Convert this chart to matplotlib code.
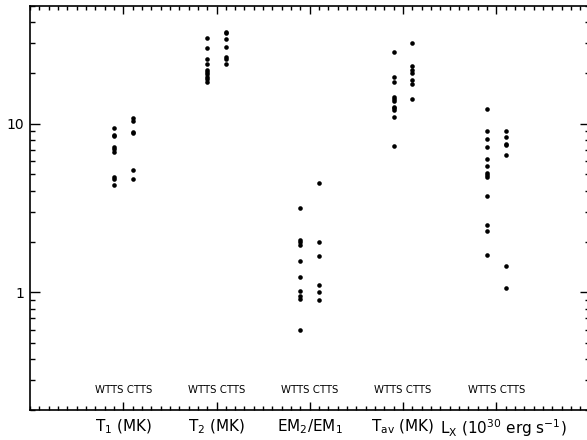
import matplotlib
matplotlib.use("Agg")
import matplotlib.pyplot as plt
import matplotlib.transforms as mtransforms
from matplotlib.ticker import FixedLocator, MultipleLocator, LogLocator, NullFormatter

# values (WTTS / CTTS per quantity)
labels = [r"T$_1$ (MK)", r"T$_2$ (MK)", r"EM$_2$/EM$_1$", r"T$_{\rm av}$ (MK)",
          r"L$_{\rm X}$ (10$^{30}$ erg s$^{-1}$)"]

t1_wtts = [9.5, 8.6, 8.5, 7.3, 7.1, 6.8, 4.8, 4.7, 4.35]
t1_ctts = [10.75, 10.4, 8.97, 8.77, 5.32, 4.71]
t2_wtts = [32.4, 28.3, 24.2, 22.5, 20.8, 20.3, 19.7, 19.0, 18.4, 17.8]
t2_ctts = [35.2, 34.4, 31.7, 28.7, 24.9, 24.3, 22.6]
em_wtts = [3.17, 2.05, 1.98, 1.92, 1.53, 1.23, 1.02, 0.947, 0.91, 0.596]
em_ctts = [4.43, 1.98, 1.63, 1.10, 1.0, 0.905]
tav_wtts = [26.8, 19.0, 17.8, 14.5, 14.0, 13.6, 12.6, 12.4, 12.1, 10.9, 7.4]
tav_ctts = [30.3, 22.0, 20.9, 19.9, 18.2, 17.2, 14.0]
lx_wtts = [12.3, 9.0, 8.1, 7.3, 6.2, 5.6, 5.1, 4.97, 4.86, 3.75, 2.49, 2.30, 1.67]
lx_ctts = [9.0, 8.4, 7.6, 7.5, 6.5, 1.44, 1.06]

wtts = [t1_wtts, t2_wtts, em_wtts, tav_wtts, lx_wtts]
ctts = [t1_ctts, t2_ctts, em_ctts, tav_ctts, lx_ctts]

fig = plt.figure(figsize=(5.87, 4.40), dpi=100)
ax = fig.add_axes([30 / 587, 1 - 410 / 440, 559.5 / 587, 404 / 440])

for i in range(len(labels)):
    xpos = i + 1
    ax.plot([xpos - 0.1] * len(wtts[i]), wtts[i], "o", color="black", ms=3.3, mew=0)
    ax.plot([xpos + 0.1] * len(ctts[i]), ctts[i], "o", color="black", ms=3.3, mew=0)
    ax.text(xpos, 0.263, "WTTS CTTS", ha="center", va="center", fontsize=7.3)

ax.set_yscale("log")
ax.set_xlim(0, 6)
ax.set_ylim(0.2, 50)

ax.xaxis.set_major_locator(FixedLocator([1, 2, 3, 4, 5]))
ax.xaxis.set_minor_locator(MultipleLocator(0.1))
ax.set_xticklabels(labels, fontsize=11)
ax.yaxis.set_major_locator(FixedLocator([1, 10]))
ax.yaxis.set_minor_locator(LogLocator(base=10, subs=range(2, 10)))
ax.yaxis.set_minor_formatter(NullFormatter())
ax.set_yticklabels(["1", "10"], fontsize=10)

ax.tick_params(which="both", direction="in", top=True, right=True, width=1)
ax.tick_params(axis="y", which="major", length=7.5, pad=4)
ax.tick_params(axis="y", which="minor", length=3.8)
ax.tick_params(axis="x", which="major", length=6, pad=5.5)
ax.tick_params(axis="x", which="minor", length=3)
for s in ax.spines.values():
    s.set_linewidth(1.2)

# the Lx label sits a bit right of its tick in the original
lx_lab = ax.get_xticklabels()[-1]
lx_lab.set_transform(lx_lab.get_transform() +
                     mtransforms.ScaledTranslation(0.07, 0, fig.dpi_scale_trans))

fig.savefig("out.png", dpi=100)
